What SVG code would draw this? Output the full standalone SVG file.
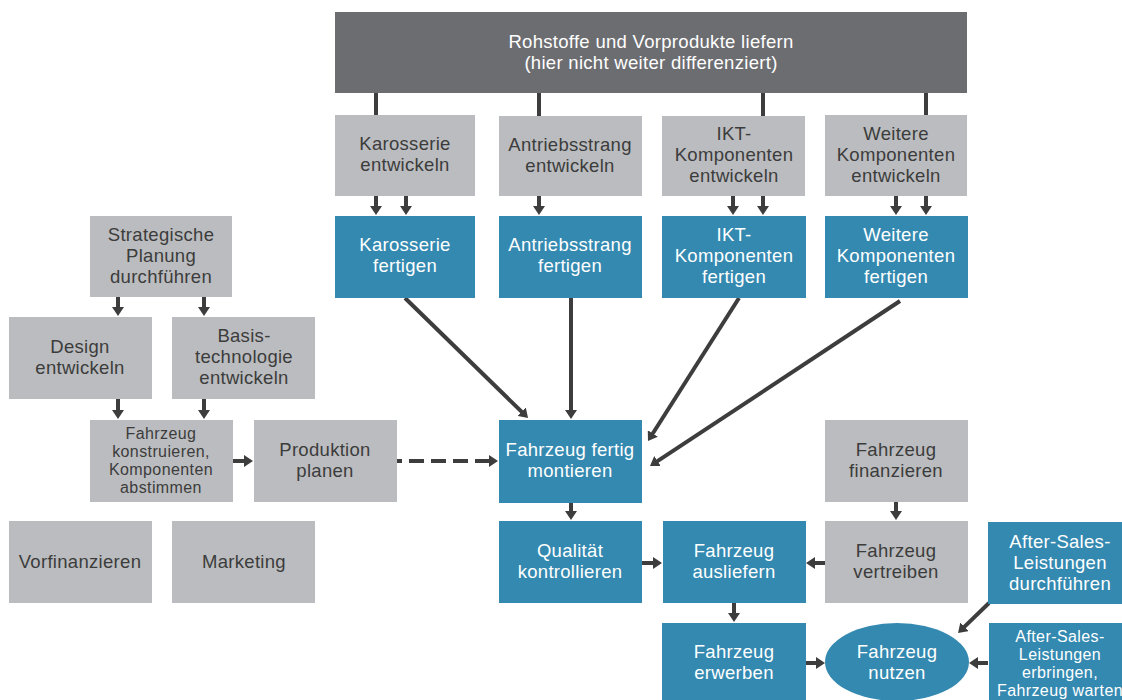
<svg xmlns="http://www.w3.org/2000/svg" width="1122" height="700" viewBox="0 0 1122 700">
<style>
.g{fill:#bbbcbf}
.b{fill:#3489b0}
.d{fill:#6c6d71}
text{font-family:"Liberation Sans",Arial,sans-serif;font-size:18.5px;letter-spacing:0.3px;text-anchor:middle}
.tg{fill:#3c3c3c}
.tw{fill:#ffffff}
.sm{font-size:16px;letter-spacing:0.4px}
.c{stroke:#3d3d3d;stroke-width:4;fill:none}
.c.a{marker-end:url(#ah)}
.dash{stroke-dasharray:15 7}
</style>
<defs>
<marker id="ah" markerUnits="userSpaceOnUse" viewBox="0 0 9 12" markerWidth="9" markerHeight="12" refX="1" refY="6" orient="auto">
<path d="M0,0 L9,6 L0,12 z" fill="#3d3d3d"/>
</marker>
</defs>
<rect width="1122" height="700" fill="#ffffff"/>

<g id="connectors">
<line class="c" x1="376" y1="93" x2="376" y2="116"/>
<line class="c" x1="539" y1="93" x2="539" y2="116"/>
<line class="c" x1="763" y1="93" x2="763" y2="116"/>
<line class="c" x1="926" y1="93" x2="926" y2="116"/>
<line class="c a" x1="376" y1="196" x2="376" y2="207"/>
<line class="c a" x1="406" y1="196" x2="406" y2="207"/>
<line class="c a" x1="539" y1="196" x2="539" y2="207"/>
<line class="c a" x1="733" y1="196" x2="733" y2="207"/>
<line class="c a" x1="763" y1="196" x2="763" y2="207"/>
<line class="c a" x1="896" y1="196" x2="896" y2="207"/>
<line class="c a" x1="926" y1="196" x2="926" y2="207"/>
<line class="c a" x1="118" y1="297" x2="118" y2="308"/>
<line class="c a" x1="204" y1="297" x2="204" y2="308"/>
<line class="c a" x1="118" y1="399" x2="118" y2="411"/>
<line class="c a" x1="204" y1="399" x2="204" y2="411"/>
<line class="c a" x1="233" y1="461" x2="245" y2="461"/>
<line class="c a dash" x1="397" y1="461" x2="490" y2="461" stroke-dashoffset="10"/>
<line class="c a" x1="405" y1="298" x2="522.3" y2="412.4"/>
<line class="c a" x1="571" y1="298" x2="571" y2="411"/>
<line class="c a" x1="739" y1="298" x2="652.3" y2="434.3"/>
<line class="c a" x1="900" y1="301" x2="656.7" y2="461.6"/>
<line class="c a" x1="571" y1="503" x2="571" y2="512"/>
<line class="c a" x1="896" y1="502" x2="896" y2="512"/>
<line class="c a" x1="642" y1="563" x2="654" y2="563"/>
<line class="c a" x1="825" y1="563" x2="814" y2="563"/>
<line class="c a" x1="734" y1="603" x2="734" y2="614"/>
<line class="c a" x1="806" y1="663" x2="817" y2="663"/>
<line class="c a" x1="988" y1="663" x2="977" y2="663"/>
<line class="c a" x1="989" y1="603" x2="963.8" y2="627.4"/>
</g>

<g id="rohstoffe">
<rect class="d" x="335" y="12" width="632" height="81"/>
<text class="tw" x="651" y="48">Rohstoffe und Vorprodukte liefern</text>
<text class="tw" x="651" y="69">(hier nicht weiter differenziert)</text>
</g>

<g id="karosserie-entwickeln">
<rect class="g" x="335" y="115" width="140" height="81"/>
<text class="tg" x="405" y="150">Karosserie</text>
<text class="tg" x="405" y="171">entwickeln</text>
</g>
<g id="antriebsstrang-entwickeln">
<rect class="g" x="499" y="116" width="143" height="80"/>
<text class="tg" x="570" y="151">Antriebsstrang</text>
<text class="tg" x="570" y="172">entwickeln</text>
</g>
<g id="ikt-entwickeln">
<rect class="g" x="662" y="116" width="143" height="80"/>
<text class="tg" x="734" y="140">IKT-</text>
<text class="tg" x="734" y="161">Komponenten</text>
<text class="tg" x="734" y="182">entwickeln</text>
</g>
<g id="weitere-entwickeln">
<rect class="g" x="825" y="115" width="142" height="81"/>
<text class="tg" x="896" y="140">Weitere</text>
<text class="tg" x="896" y="161">Komponenten</text>
<text class="tg" x="896" y="182">entwickeln</text>
</g>

<g id="karosserie-fertigen">
<rect class="b" x="335" y="216" width="140" height="82"/>
<text class="tw" x="405" y="251">Karosserie</text>
<text class="tw" x="405" y="272">fertigen</text>
</g>
<g id="antriebsstrang-fertigen">
<rect class="b" x="499" y="216" width="143" height="82"/>
<text class="tw" x="570" y="251">Antriebsstrang</text>
<text class="tw" x="570" y="272">fertigen</text>
</g>
<g id="ikt-fertigen">
<rect class="b" x="662" y="216" width="144" height="82"/>
<text class="tw" x="734" y="241">IKT-</text>
<text class="tw" x="734" y="262">Komponenten</text>
<text class="tw" x="734" y="283">fertigen</text>
</g>
<g id="weitere-fertigen">
<rect class="b" x="825" y="216" width="143" height="82"/>
<text class="tw" x="896" y="241">Weitere</text>
<text class="tw" x="896" y="262">Komponenten</text>
<text class="tw" x="896" y="283">fertigen</text>
</g>

<g id="strategische-planung">
<rect class="g" x="90" y="216" width="142" height="81"/>
<text class="tg" x="161" y="241">Strategische</text>
<text class="tg" x="161" y="262">Planung</text>
<text class="tg" x="161" y="283">durchführen</text>
</g>
<g id="design">
<rect class="g" x="9" y="317" width="143" height="82"/>
<text class="tg" x="80" y="353">Design</text>
<text class="tg" x="80" y="374">entwickeln</text>
</g>
<g id="basistechnologie">
<rect class="g" x="172" y="317" width="143" height="82"/>
<text class="tg" x="244" y="342">Basis-</text>
<text class="tg" x="244" y="363">technologie</text>
<text class="tg" x="244" y="384">entwickeln</text>
</g>
<g id="konstruieren">
<rect class="g" x="90" y="420" width="143" height="82"/>
<text class="tg sm" x="161" y="439">Fahrzeug</text>
<text class="tg sm" x="161" y="457">konstruieren,</text>
<text class="tg sm" x="161" y="475">Komponenten</text>
<text class="tg sm" x="161" y="493">abstimmen</text>
</g>
<g id="produktion-planen">
<rect class="g" x="254" y="420" width="143" height="82"/>
<text class="tg" x="325" y="456">Produktion</text>
<text class="tg" x="325" y="477">planen</text>
</g>
<g id="vorfinanzieren">
<rect class="g" x="9" y="521" width="143" height="82"/>
<text class="tg" x="80" y="568">Vorfinanzieren</text>
</g>
<g id="marketing">
<rect class="g" x="172" y="521" width="143" height="82"/>
<text class="tg" x="244" y="568">Marketing</text>
</g>

<g id="fertig-montieren">
<rect class="b" x="499" y="420" width="143" height="83"/>
<text class="tw" x="570" y="456">Fahrzeug fertig</text>
<text class="tw" x="570" y="477">montieren</text>
</g>
<g id="finanzieren">
<rect class="g" x="825" y="420" width="143" height="82"/>
<text class="tg" x="896" y="456">Fahrzeug</text>
<text class="tg" x="896" y="477">finanzieren</text>
</g>
<g id="qualitaet">
<rect class="b" x="499" y="521" width="143" height="82"/>
<text class="tw" x="570" y="557">Qualität</text>
<text class="tw" x="570" y="578">kontrollieren</text>
</g>
<g id="ausliefern">
<rect class="b" x="663" y="521" width="143" height="82"/>
<text class="tw" x="734" y="557">Fahrzeug</text>
<text class="tw" x="734" y="578">ausliefern</text>
</g>
<g id="vertreiben">
<rect class="g" x="825" y="521" width="143" height="82"/>
<text class="tg" x="896" y="557">Fahrzeug</text>
<text class="tg" x="896" y="578">vertreiben</text>
</g>
<g id="after-sales-durchfuehren">
<rect class="b" x="988" y="522" width="143" height="82"/>
<text class="tw" x="1060" y="548">After-Sales-</text>
<text class="tw" x="1060" y="569">Leistungen</text>
<text class="tw" x="1060" y="590">durchführen</text>
</g>
<g id="erwerben">
<rect class="b" x="662" y="623" width="144" height="85"/>
<text class="tw" x="734" y="658">Fahrzeug</text>
<text class="tw" x="734" y="679">erwerben</text>
</g>
<g id="nutzen">
<ellipse class="b" cx="897" cy="662" rx="72" ry="39"/>
<text class="tw" x="897" y="658">Fahrzeug</text>
<text class="tw" x="897" y="679">nutzen</text>
</g>
<g id="after-sales-erbringen">
<rect class="b" x="989" y="623" width="143" height="85"/>
<text class="tw sm" x="1060" y="642">After-Sales-</text>
<text class="tw sm" x="1060" y="660">Leistungen</text>
<text class="tw sm" x="1060" y="678">erbringen,</text>
<text class="tw sm" x="1060" y="696">Fahrzeug warten</text>
</g>
</svg>
